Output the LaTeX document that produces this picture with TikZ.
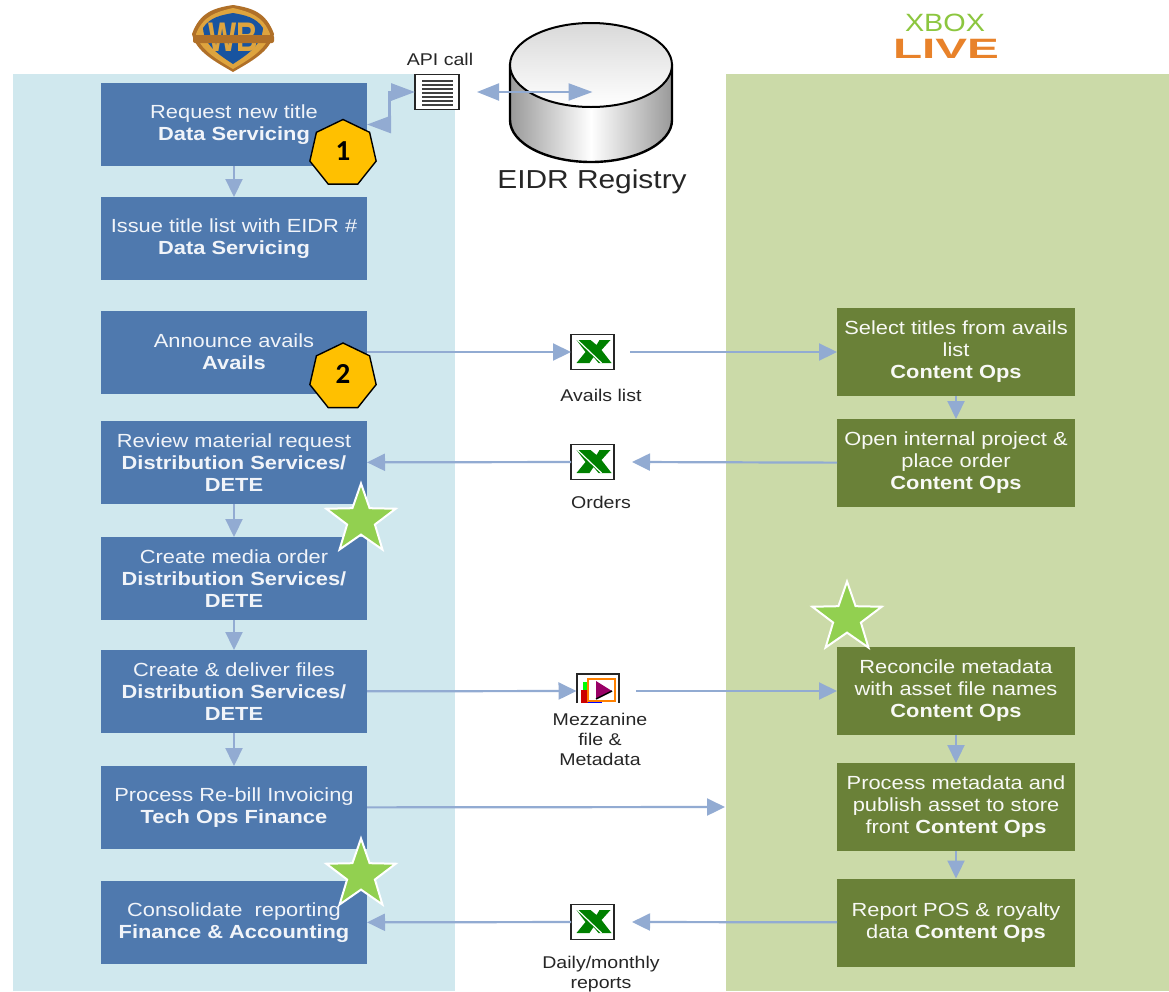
\documentclass[tikz,border=0pt]{standalone}
\usepackage{fontspec}
\setmainfont[FakeStretch=1.15]{Liberation Sans}
\newfontfamily\badgefont{Carlito}
\usetikzlibrary{shapes,shapes.geometric,arrows.meta}
\definecolor{LeftCol}{RGB}{208,232,238}
\definecolor{RightCol}{RGB}{203,218,168}
\definecolor{BlueCol}{RGB}{79,121,174}
\definecolor{GreenCol}{RGB}{106,129,56}
\definecolor{FlowCol}{RGB}{146,171,210}
\definecolor{BadgeCol}{RGB}{255,192,0}
\definecolor{StarCol}{RGB}{146,208,80}
\definecolor{XlCol}{RGB}{0,128,0}
\definecolor{ShieldGold}{RGB}{222,164,62}
\definecolor{ShieldEdge}{RGB}{176,112,40}
\definecolor{ShieldBlue}{RGB}{24,84,160}
\definecolor{XboxCol}{RGB}{140,198,63}
\definecolor{LiveCol}{RGB}{232,130,42}
\tikzstyle{bluebox} = [rectangle, fill=BlueCol, text=white!92!BlueCol, minimum width=266pt, minimum height=83pt, inner sep=0pt, outer sep=0pt, align=center, font=\fontsize{19}{22}\selectfont]
\tikzstyle{greenbox} = [rectangle, fill=GreenCol, text=white!95!GreenCol, minimum width=238pt, minimum height=88pt, inner sep=0pt, outer sep=0pt, align=center, font=\fontsize{19}{22}\selectfont]
\tikzstyle{flow} = [draw=FlowCol, line width=2.2pt, -{Triangle[length=18pt,width=17pt]}]
\tikzstyle{twoway} = [draw=FlowCol, line width=2.2pt, {Triangle[length=22pt,width=17pt]}-{Triangle[length=24pt,width=17pt]}]
\tikzstyle{badge} = [regular polygon, regular polygon sides=7, minimum size=68pt, inner sep=0pt, fill=BadgeCol, draw=black, line width=1.4pt]
\tikzstyle{award} = [star, star points=5, star point ratio=2.5, minimum size=73pt, inner sep=0pt, fill=StarCol, draw=white, line width=2pt]
\tikzstyle{label} = [align=center, text=black!85, inner sep=0pt, font=\fontsize{17}{20}\selectfont]
\tikzstyle{iconbox} = [rectangle, draw=black!85, fill=white, line width=1.3pt, minimum width=43pt, minimum height=35pt, inner sep=0pt, outer sep=0pt]
\newcommand{\xlicon}[2]{
  \node[iconbox] (#1) at (#2) {};
  \begin{scope}[shift={(#2)}]
    \fill[XlCol] (-16,-12) -- (-2,-12) -- (4,-7) -- (7,-12) -- (18,-12) -- (9,-2) -- (19,11) -- (6,11) -- (1,5) -- (-3,11) -- (-16,11) -- (-7,0) -- cycle;
    \draw[white,line width=1.2pt] (-15,-12) -- (9,11);
  \end{scope}
}
\begin{document}
\begin{tikzpicture}[x=1pt,y=-1pt]
  \useasboundingbox (0,0) rectangle (1169,991);

  \fill[LeftCol] (13,74) rectangle (455,991);
  \fill[RightCol] (726,74) rectangle (1169,991);

  \fill[ShieldEdge] (192,34) .. controls (200,12) and (214,8) .. (233,5) .. controls (252,8) and (266,12) .. (274,34) .. controls (270,52) and (250,62) .. (233,72) .. controls (216,62) and (196,52) .. (192,34) -- cycle;
  \fill[ShieldGold] (196,34) .. controls (203,16) and (216,12) .. (233,8) .. controls (250,12) and (263,16) .. (270,34) .. controls (266,50) and (248,60) .. (233,69) .. controls (218,60) and (200,50) .. (196,34) -- cycle;
  \fill[ShieldBlue] (203,28) .. controls (210,17) and (222,15) .. (233,13) .. controls (244,15) and (256,17) .. (263,28) .. controls (262,46) and (245,56) .. (233,64) .. controls (221,56) and (204,46) .. (203,28) -- cycle;
  \node[inner sep=0pt,text=ShieldGold] (wbmark) at (233,37) {\fontsize{36}{36}\selectfont\bfseries\scalebox{0.72}[1.15]{WB}};
  \fill[ShieldEdge,rounded corners=2pt] (193,35) rectangle (274,43);

  \node[inner sep=0pt,text=XboxCol] (xboxmark) at (945,23) {\fontsize{25}{25}\selectfont XBOX};
  \node[inner sep=0pt,text=LiveCol] (livemark) at (946,49) {\fontsize{28}{28}\selectfont\bfseries\scalebox{1.48}[1]{LIVE}};

  \shade[left color=black!40,right color=black!40,middle color=white,draw=black,line width=2.4pt] (510,65) -- (510,120) arc[start angle=180,end angle=0,x radius=81,y radius=42] -- (672,65) -- cycle;
  \shade[top color=black!15,bottom color=white,draw=black,line width=2pt] (591,65) ellipse[x radius=81,y radius=42];
  \node[inner sep=0pt,outer sep=0pt] (eidr) at (593,92) {};
  \node[label,font=\fontsize{26}{30}\selectfont] (eidrlabel) at (592,182) {EIDR Registry};

  \node[iconbox,minimum width=44pt] (api) at (437,92) {};
  \foreach \y in {-11,-7,-3,1,5,9,13}
    \draw[black!75,line width=1.2pt] (422,92+\y) -- (453,92+\y);
  \node[label] (apilabel) at (440,59) {API call};

  \node[bluebox] (request) at (234,124.5) {Request new title\\\textbf{Data Servicing}};
  \node[bluebox] (issue) at (234,238.5) {Issue title list with EIDR \#\\\textbf{Data Servicing}};
  \node[bluebox] (announce) at (234,352) {Announce avails\\\textbf{Avails}};
  \node[bluebox] (review) at (234,462.5) {Review material request\\\textbf{Distribution Services/}\\\textbf{DETE}};
  \node[bluebox] (media) at (234,578.5) {Create media order\\\textbf{Distribution Services/}\\\textbf{DETE}};
  \node[bluebox] (deliver) at (234,691.5) {Create \& deliver files\\\textbf{Distribution Services/}\\\textbf{DETE}};
  \node[bluebox] (rebill) at (234,807.5) {Process Re-bill Invoicing\\\textbf{Tech Ops Finance}};
  \node[bluebox] (consolidate) at (234,922.5) {Consolidate\ \ reporting\\\textbf{Finance \& Accounting}};

  \node[greenbox] (select) at (956,352) {Select titles from avails\\list\\\textbf{Content Ops}};
  \node[greenbox] (project) at (956,463) {Open internal project \&\\place order\\\textbf{Content Ops}};
  \node[greenbox] (reconcile) at (956,691) {Reconcile metadata\\with asset file names\\\textbf{Content Ops}};
  \node[greenbox] (publish) at (956,807) {Process metadata and\\publish asset to store\\front \textbf{Content Ops}};
  \node[greenbox] (report) at (956,922.5) {Report POS \& royalty\\data \textbf{Content Ops}};

  \xlicon{availsicon}{592.5,352}
  \xlicon{ordersicon}{592.5,462}
  \xlicon{dailyicon}{592.5,922}
  \node[label] (availslabel) at (601,395) {Avails list};
  \node[label] (orderslabel) at (601,502) {Orders};
  \node[label] (dailylabel) at (601,974) {Daily/monthly\\reports};

  \fill[white] (577,674) rectangle (619,703);
  \draw[black!85,line width=1.3pt] (577,703) -- (577,674) -- (619,674) -- (619,703);
  \fill[green] (583,682) rectangle (590,690);
  \fill[red!80!black] (581,690) rectangle (588,703);
  \fill[blue] (588,698) rectangle (602,703);
  \draw[orange,line width=2.6pt] (588,679) rectangle (615,701);
  \fill[white] (589,680) rectangle (614,700);
  \fill[violet!80!red] (596,681) -- (612,691) -- (596,699) -- cycle;
  \draw[black,line width=1.5pt] (596,699) -- (612,691);
  \node[inner sep=0pt,outer sep=0pt] (mezzicon) at (577,691) {};
  \node[label,inner xsep=2pt,inner ysep=1pt] (mezzlabel) at (600,739) {Mezzanine\\file \&\\Metadata};

  \coordinate (availsout) at (630,352);
  \coordinate (ordersout) at (632,462);
  \coordinate (mezzout) at (636,691);
  \coordinate (dailyout) at (632,922);
  \coordinate (rebillend) at (725,807);
  \coordinate (elbowtop) at (389,92);
  \coordinate (elbowlow) at (389,124.5);

  \draw[flow] (request) -- (issue);
  \draw[flow] (review) -- (media);
  \draw[flow] (media) -- (deliver);
  \draw[flow] (deliver) -- (rebill);
  \draw[flow] (select) -- (project);
  \draw[flow] (reconcile) -- (publish);
  \draw[flow] (publish) -- (report);

  \draw[flow] (announce) -- (availsicon);
  \draw[flow] (availsout) -- (select);
  \draw[flow] (ordersicon) -- (review);
  \draw[flow] (project) -- (ordersout);
  \draw[flow] (deliver) -- (mezzicon);
  \draw[flow] (mezzout) -- (reconcile);
  \draw[flow] (rebill) -- (rebillend);
  \draw[flow] (report) -- (dailyout);
  \draw[flow] (dailyicon) -- (consolidate);

  \draw[flow,line width=3pt,-{Triangle[length=24pt,width=17pt]}] (elbowlow) -- (elbowtop) -- (api);
  \draw[flow,line width=3pt,-{Triangle[length=24pt,width=17pt]}] (elbowlow) -- (request.east |- elbowlow);
  \coordinate (apiout) at (477,92);
  \draw[twoway] (apiout) -- (eidr);

  \node[badge] (stepone) at (343,153.5) {};
  \node[inner sep=0pt,font=\badgefont\bfseries\fontsize{29}{29}\selectfont] (steponetext) at (343,151) {1};
  \node[badge] (steptwo) at (343,377) {};
  \node[inner sep=0pt,font=\badgefont\bfseries\fontsize{29}{29}\selectfont] (steptwotext) at (343,374) {2};

  \node[award] (starone) at (361,520) {};
  \node[award] (startwo) at (847,618) {};
  \node[award] (starthree) at (361,875) {};
\end{tikzpicture}
\end{document}
